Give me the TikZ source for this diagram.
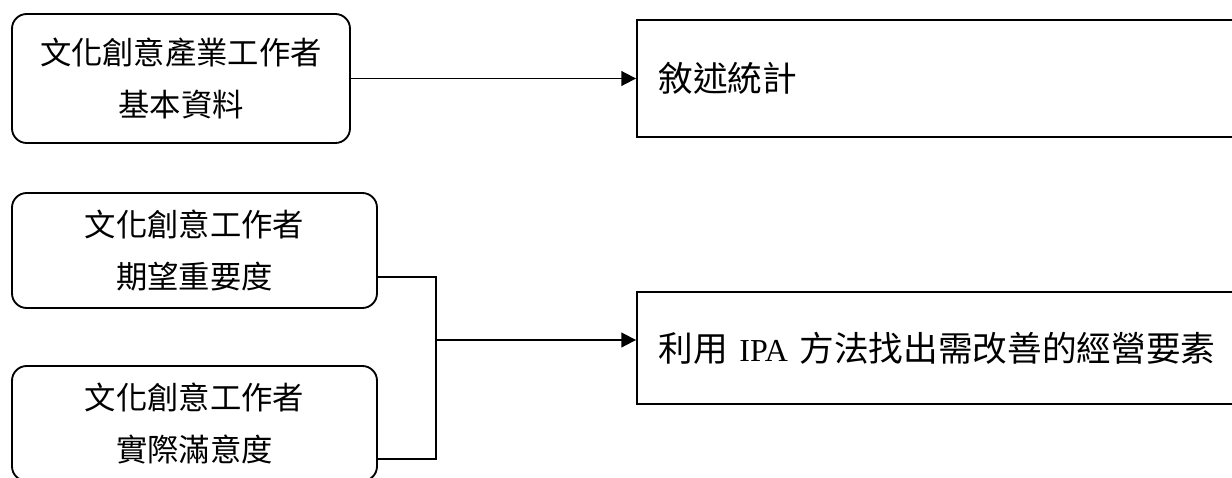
\documentclass[tikz,border=0pt]{standalone}
\usepackage{fontspec}
\setmainfont{Liberation Serif}
\newfontfamily\cjk{Noto Sans CJK TC}
\usetikzlibrary{arrows.meta}
\tikzset{
  roundbox/.style={draw, line width=1.4pt, rounded corners=11pt, align=center,
    font=\cjk\fontsize{23.5}{39}\selectfont, text=black, inner sep=0pt},
  resultbox/.style={draw, line width=1.4pt, align=left, inner xsep=16pt, inner ysep=0pt,
    text width=465pt, minimum width=497.25pt, font=\cjk\fontsize{26}{32}\selectfont},
  conn/.style={line width=1.4pt},
  arr/.style={line width=1.4pt, -{Triangle[length=11pt,width=11pt]}}
}
\begin{document}
\begin{tikzpicture}[x=0.75pt,y=-0.75pt]
\useasboundingbox (0,0) rectangle (1232,478);
\node[roundbox, minimum width=253.5pt, minimum height=96.75pt] (b1) at (181,78.5) {文化創意產業工作者\\基本資料};
\node[roundbox, minimum width=273.75pt, minimum height=86.25pt] (b2) at (194.5,250.5) {文化創意工作者\\期望重要度};
\node[roundbox, minimum width=273.75pt, minimum height=86.25pt] (b3) at (194.5,423.5) {文化創意工作者\\實際滿意度};
\node[resultbox, minimum height=87.75pt] (r1) at (968.5,78.5) {敘述統計};
\node[resultbox, minimum height=84pt] (r2) at (968.5,348) {利用 {\rmfamily\fontsize{24}{32}\selectfont IPA} 方法找出需改善的經營要素};
\coordinate (j1) at (436,277);
\coordinate (j2) at (436,459);
\coordinate (j) at (436,340);
\draw[arr] (b1.east) -- (r1.west);
\draw[conn] (b2.east |- j1) -- (j1) -- (j2) -- (b3.east |- j2);
\draw[arr] (j) -- (j -| r2.west);
\end{tikzpicture}
\end{document}
